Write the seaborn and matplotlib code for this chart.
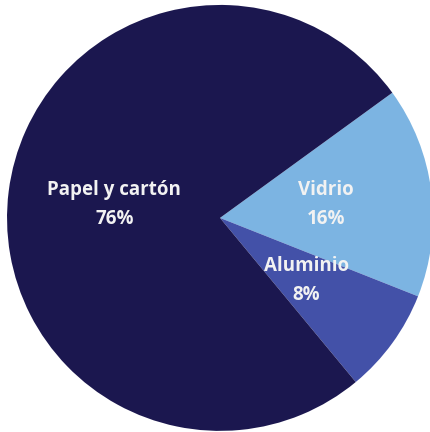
import numpy as np
import matplotlib
matplotlib.use("Agg")
import matplotlib.pyplot as plt
import seaborn as sns

sns.set_theme(style="white")
plt.rcParams['font.family'] = ['Open Sans', 'DejaVu Sans']

# data (clockwise from upper right)
materials = ["Vidrio", "Aluminio", "Papel y cartón"]
shares = [16, 8, 76]
colors = ["#7cb4e2", "#4351a8", "#1b174f"]

fig = plt.figure(figsize=(4.30, 4.32), dpi=100)
ax = fig.add_axes([0, 0, 1, 1])

wedges, _ = ax.pie(shares, colors=colors, startangle=36, counterclock=False,
                   radius=1.0, wedgeprops={'linewidth': 0})

# labels at half radius in the middle of each wedge
for w, name, val in zip(wedges, materials, shares):
    mid = np.deg2rad((w.theta1 + w.theta2) / 2)
    ax.text(0.5 * np.cos(mid), 0.5 * np.sin(mid), f"{name}\n{val}%",
            ha='center', va='center', color='#f2f2f2', fontsize=13.5,
            fontweight='bold', linespacing=1.6)

ax.set_xlim(-1.033, 0.986)
ax.set_ylim(-1.005, 1.023)
ax.set_aspect('equal')
ax.axis('off')

fig.savefig("out.png", dpi=100)
